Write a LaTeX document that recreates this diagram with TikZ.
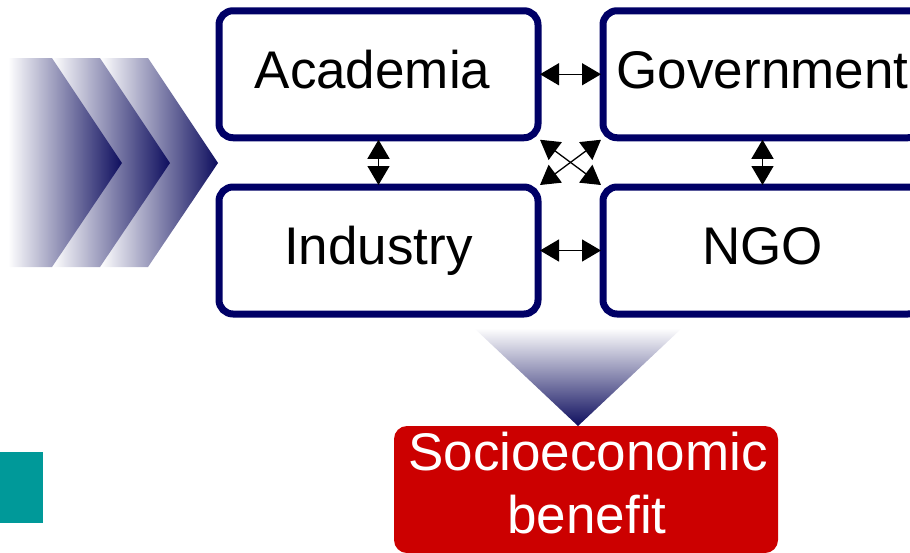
\documentclass[tikz,border=0pt]{standalone}
\usepackage{fontspec}
\setmainfont{Liberation Sans}
\usetikzlibrary{arrows.meta}
\definecolor{boxnavy}{HTML}{000066}
\definecolor{chevnavy}{HTML}{0E0E5E}
\definecolor{benefitred}{HTML}{CC0000}
\definecolor{tealsq}{HTML}{009999}
\tikzset{
  actor/.style={draw=boxnavy, line width=7pt, rounded corners=14pt, fill=white,
    minimum width=319pt, minimum height=127pt, inner sep=0pt, outer sep=2pt,
    text height=38pt, text depth=10pt, font=\fontsize{53}{63}\selectfont},
  link/.style={line width=1.3pt, {Triangle[length=19pt,width=22pt]}-{Triangle[length=19pt,width=22pt]}},
  bigtext/.style={font=\fontsize{53}{63}\selectfont, inner sep=0pt},
}
\begin{document}
\begin{tikzpicture}[x=1pt,y=-1pt]
\useasboundingbox (0,0) rectangle (910,552);
% chevrons (back to front)
\shade[left color=white, right color=chevnavy] (100,58) -- (148,58) -- (218,163) -- (148,267) -- (100,267) -- cycle;
\shade[left color=white, right color=chevnavy] (52,58) -- (100,58) -- (170,163) -- (100,267) -- (52,267) -- cycle;
\shade[left color=white, right color=chevnavy] (8,58) -- (52,58) -- (122,163) -- (52,267) -- (8,267) -- cycle;
% teal square
\fill[tealsq] (0,452) rectangle (43,523);
% boxes
\node[actor] (acad) at (378.5,74.25) {Academia\hspace*{12pt}};
\node[actor] (gov) at (762.5,74.25) {Government};
\node[actor] (ind) at (378.5,250.5) {Industry};
\node[actor] (ngo) at (762.5,250.5) {NGO};
% connectors
\draw[link] (acad) -- (gov);
\draw[link] (ind) -- (ngo);
\draw[link] (acad) -- (ind);
\draw[link] (gov) -- (ngo);
\draw[link] (acad.south east) -- (ngo.north west);
\draw[link] (gov.south west) -- (ind.north east);
% down arrow
\shade[top color=white, bottom color=chevnavy] (474,328) -- (682,328) -- (578,426) -- cycle;
% benefit box
\node[fill=benefitred, rounded corners=13pt, minimum width=384pt, minimum height=127pt, inner sep=0pt] (benefit) at (586,489.5) {};
\node[bigtext, text=white, anchor=base] (benefit1) at (588,470) {Socioeconomic};
\node[bigtext, text=white, anchor=base] (benefit2) at (587,533) {benefit};
\end{tikzpicture}
\end{document}
